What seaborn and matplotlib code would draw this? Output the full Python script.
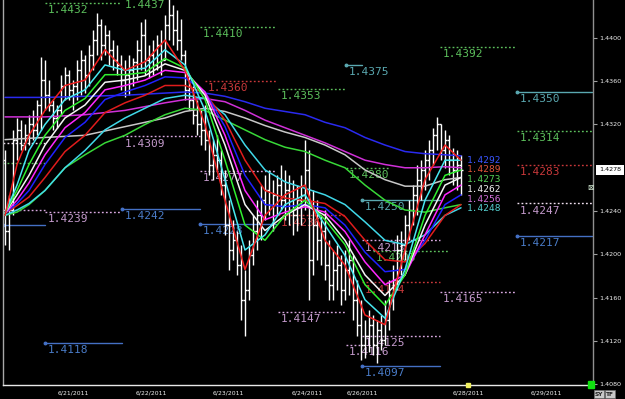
import matplotlib
matplotlib.use("Agg")
import matplotlib.pyplot as plt
import matplotlib.transforms as mtransforms
from matplotlib.patches import Rectangle
import numpy as np
import pandas as pd
import seaborn as sns

# ---------------- data ----------------
high = [1.4296, 1.4255, 1.4315, 1.4326, 1.4324, 1.4320, 1.4329, 1.4333, 1.4343, 1.4382,
        1.4380, 1.4361, 1.4343, 1.4338, 1.4366, 1.4373, 1.4370, 1.4361, 1.4380, 1.4389,
        1.4384, 1.4393, 1.4407, 1.4423, 1.4417, 1.4412, 1.4407, 1.4398, 1.4393, 1.4384,
        1.4380, 1.4384, 1.4381, 1.4398, 1.4415, 1.4417, 1.4393, 1.4398, 1.4403, 1.4407,
        1.4421, 1.4437, 1.4430, 1.4426, 1.4417, 1.4389, 1.4366, 1.4356, 1.4343, 1.4333,
        1.4338, 1.4315, 1.4306, 1.4310, 1.4296, 1.4278, 1.4250, 1.4232, 1.4222, 1.4209,
        1.4186, 1.4213, 1.4236, 1.4250, 1.4264, 1.4273, 1.4278, 1.4269, 1.4273, 1.4283,
        1.4278, 1.4273, 1.4269, 1.4264, 1.4273, 1.4306, 1.4296, 1.4259, 1.4250, 1.4236,
        1.4241, 1.4213, 1.4204, 1.4209, 1.4199, 1.4204, 1.4213, 1.4199, 1.4176, 1.4158,
        1.4139, 1.4149, 1.4144, 1.4139, 1.4144, 1.4158, 1.4176, 1.4190, 1.4218, 1.4222,
        1.4236, 1.4250, 1.4264, 1.4283, 1.4287, 1.4296, 1.4306, 1.4317, 1.4327, 1.4320,
        1.4315, 1.4310, 1.4298, 1.4296, 1.4292]
low = [1.4209, 1.4204, 1.4236, 1.4287, 1.4296, 1.4296, 1.4301, 1.4306, 1.4310, 1.4315,
       1.4333, 1.4332, 1.4315, 1.4317, 1.4329, 1.4343, 1.4343, 1.4333, 1.4343, 1.4347,
       1.4349, 1.4356, 1.4370, 1.4384, 1.4380, 1.4384, 1.4375, 1.4370, 1.4366, 1.4352,
       1.4345, 1.4347, 1.4356, 1.4361, 1.4370, 1.4366, 1.4363, 1.4366, 1.4370, 1.4366,
       1.4380, 1.4398, 1.4393, 1.4389, 1.4380, 1.4343, 1.4333, 1.4320, 1.4310, 1.4301,
       1.4296, 1.4273, 1.4269, 1.4278, 1.4255, 1.4218, 1.4186, 1.4195, 1.4181, 1.4139,
       1.4125, 1.4158, 1.4190, 1.4204, 1.4213, 1.4232, 1.4236, 1.4222, 1.4236, 1.4241,
       1.4232, 1.4227, 1.4218, 1.4222, 1.4227, 1.4241, 1.4158, 1.4181, 1.4195, 1.4190,
       1.4176, 1.4158, 1.4158, 1.4167, 1.4153, 1.4158, 1.4162, 1.4139, 1.4125, 1.4102,
       1.4104, 1.4110, 1.4107, 1.4100, 1.4112, 1.4116, 1.4130, 1.4149, 1.4167, 1.4181,
       1.4195, 1.4213, 1.4227, 1.4236, 1.4250, 1.4259, 1.4269, 1.4283, 1.4296, 1.4287,
       1.4280, 1.4273, 1.4264, 1.4259, 1.4255]
open_ = [1.4287, 1.4222, 1.4241, 1.4306, 1.4315, 1.4301, 1.4310, 1.4320, 1.4315, 1.4338,
         1.4361, 1.4347, 1.4338, 1.4326, 1.4333, 1.4356, 1.4366, 1.4352, 1.4356, 1.4370,
         1.4380, 1.4366, 1.4384, 1.4398, 1.4412, 1.4393, 1.4403, 1.4389, 1.4380, 1.4375,
         1.4361, 1.4366, 1.4370, 1.4378, 1.4389, 1.4403, 1.4380, 1.4384, 1.4375, 1.4393,
         1.4380, 1.4412, 1.4421, 1.4407, 1.4398, 1.4384, 1.4352, 1.4343, 1.4329, 1.4320,
         1.4315, 1.4306, 1.4283, 1.4292, 1.4287, 1.4264, 1.4227, 1.4204, 1.4213, 1.4190,
         1.4158, 1.4167, 1.4199, 1.4222, 1.4236, 1.4250, 1.4259, 1.4246, 1.4255, 1.4264,
         1.4250, 1.4259, 1.4241, 1.4236, 1.4250, 1.4255, 1.4278, 1.4195, 1.4227, 1.4213,
         1.4222, 1.4190, 1.4172, 1.4186, 1.4190, 1.4167, 1.4186, 1.4195, 1.4158, 1.4135,
         1.4116, 1.4125, 1.4135, 1.4116, 1.4130, 1.4121, 1.4139, 1.4162, 1.4176, 1.4204,
         1.4209, 1.4227, 1.4241, 1.4255, 1.4269, 1.4278, 1.4287, 1.4296, 1.4310, 1.4320,
         1.4296, 1.4306, 1.4287, 1.4278, 1.4283]
close = [1.4222, 1.4241, 1.4306, 1.4315, 1.4301, 1.4310, 1.4320, 1.4315, 1.4338, 1.4361,
         1.4347, 1.4338, 1.4326, 1.4333, 1.4356, 1.4366, 1.4352, 1.4356, 1.4370, 1.4380,
         1.4366, 1.4384, 1.4398, 1.4412, 1.4393, 1.4403, 1.4389, 1.4380, 1.4375, 1.4361,
         1.4366, 1.4370, 1.4378, 1.4389, 1.4403, 1.4380, 1.4384, 1.4375, 1.4393, 1.4380,
         1.4412, 1.4421, 1.4407, 1.4398, 1.4384, 1.4352, 1.4343, 1.4329, 1.4320, 1.4315,
         1.4306, 1.4283, 1.4292, 1.4287, 1.4264, 1.4227, 1.4204, 1.4213, 1.4190, 1.4158,
         1.4167, 1.4199, 1.4222, 1.4236, 1.4250, 1.4259, 1.4246, 1.4255, 1.4264, 1.4250,
         1.4259, 1.4241, 1.4236, 1.4250, 1.4255, 1.4278, 1.4195, 1.4227, 1.4213, 1.4222,
         1.4190, 1.4172, 1.4186, 1.4190, 1.4167, 1.4186, 1.4195, 1.4158, 1.4135, 1.4116,
         1.4125, 1.4135, 1.4116, 1.4130, 1.4121, 1.4139, 1.4162, 1.4176, 1.4204, 1.4209,
         1.4227, 1.4241, 1.4255, 1.4269, 1.4278, 1.4287, 1.4296, 1.4310, 1.4320, 1.4296,
         1.4306, 1.4287, 1.4278, 1.4283, 1.4278]

# moving-average ribbon, sampled at bar indices
ma_fast_idx = [0, 3, 6, 10, 15, 20, 25, 30, 35, 40, 45, 50, 55, 60, 65, 70, 75, 80, 85,
               90, 95, 100, 105, 110, 114]
ma_slow_idx = [0, 10, 20, 30, 40, 45, 50, 55, 60, 65, 70, 75, 80, 85, 90, 95, 100, 105,
               110, 114]
ma_red_fast = [1.4236, 1.4283, 1.4310, 1.4333, 1.4356, 1.4361, 1.4389, 1.4370, 1.4378, 1.4398,
               1.4370, 1.4320, 1.4250, 1.4186, 1.4236, 1.4255, 1.4264, 1.4213, 1.4190, 1.4144,
               1.4135, 1.4204, 1.4269, 1.4301, 1.4287]
ma_cyan_fast = [1.4238, 1.4264, 1.4296, 1.4320, 1.4343, 1.4352, 1.4375, 1.4370, 1.4372, 1.4389,
                1.4375, 1.4333, 1.4269, 1.4204, 1.4218, 1.4246, 1.4255, 1.4227, 1.4199, 1.4158,
                1.4141, 1.4186, 1.4250, 1.4287, 1.4287]
ma_green_fast = [1.4238, 1.4259, 1.4283, 1.4310, 1.4333, 1.4344, 1.4366, 1.4366, 1.4368, 1.4381,
                 1.4372, 1.4343, 1.4287, 1.4227, 1.4213, 1.4236, 1.4250, 1.4232, 1.4209, 1.4172,
                 1.4153, 1.4181, 1.4236, 1.4273, 1.4278]
ma_white_fast = [1.4238, 1.4255, 1.4273, 1.4301, 1.4326, 1.4338, 1.4359, 1.4361, 1.4365, 1.4376,
                 1.4370, 1.4347, 1.4301, 1.4246, 1.4222, 1.4236, 1.4246, 1.4236, 1.4213, 1.4181,
                 1.4162, 1.4181, 1.4227, 1.4264, 1.4271]
ma_magenta_fast = [1.4238, 1.4250, 1.4266, 1.4292, 1.4317, 1.4331, 1.4352, 1.4356, 1.4361, 1.4370,
                   1.4368, 1.4350, 1.4310, 1.4259, 1.4232, 1.4239, 1.4244, 1.4239, 1.4221, 1.4193,
                   1.4172, 1.4181, 1.4218, 1.4255, 1.4264]
ma_blue_mid = [1.4238, 1.4247, 1.4259, 1.4283, 1.4308, 1.4322, 1.4343, 1.4350, 1.4356, 1.4364,
               1.4363, 1.4350, 1.4318, 1.4273, 1.4246, 1.4244, 1.4246, 1.4243, 1.4227, 1.4202,
               1.4184, 1.4186, 1.4213, 1.4246, 1.4255]
ma_red_mid = [1.4238, 1.4245, 1.4253, 1.4271, 1.4295, 1.4310, 1.4331, 1.4340, 1.4347, 1.4356,
              1.4356, 1.4349, 1.4324, 1.4287, 1.4259, 1.4252, 1.4250, 1.4247, 1.4235, 1.4213,
              1.4195, 1.4193, 1.4210, 1.4236, 1.4246]
ma_cyan_mid = [1.4236, 1.4241, 1.4247, 1.4259, 1.4280, 1.4296, 1.4315, 1.4326, 1.4335, 1.4344,
               1.4347, 1.4344, 1.4329, 1.4301, 1.4278, 1.4267, 1.4261, 1.4255, 1.4246, 1.4230,
               1.4213, 1.4209, 1.4218, 1.4236, 1.4243]
ma_green_slow = [1.4236, 1.4239, 1.4246, 1.4259, 1.4280, 1.4292, 1.4303, 1.4310, 1.4320, 1.4329,
                 1.4335, 1.4333, 1.4324, 1.4315, 1.4306, 1.4299, 1.4295, 1.4287, 1.4280, 1.4264,
                 1.4250, 1.4241, 1.4239, 1.4243, 1.4246]
ma_grey_slow = [1.4306, 1.4308, 1.4310, 1.4318, 1.4326, 1.4332, 1.4335, 1.4332, 1.4326, 1.4319,
                1.4313, 1.4308, 1.4301, 1.4292, 1.4278, 1.4269, 1.4263, 1.4263, 1.4269, 1.4271]
ma_magenta_slow = [1.4327, 1.4327, 1.4329, 1.4333, 1.4340, 1.4343, 1.4344, 1.4341, 1.4333, 1.4324,
                   1.4317, 1.4310, 1.4303, 1.4295, 1.4287, 1.4283, 1.4280, 1.4280, 1.4281, 1.4280]
ma_blue_slow = [1.4345, 1.4345, 1.4346, 1.4347, 1.4349, 1.4350, 1.4349, 1.4346, 1.4341, 1.4335,
                1.4332, 1.4329, 1.4322, 1.4317, 1.4308, 1.4301, 1.4295, 1.4293, 1.4292, 1.4291]

# horizontal levels: start bar, end bar, price, kind, label
level_start = [10, 29.25, 48.75, 50, 68.25, 85.25, 108.75, 128, 128, 128, 128, 128, 108.75,
               89.25, 85.25, 89.25, 68.25, 10, -0.5, 10, 29.25, 29.25, -0.5, -0.5, -0.5,
               48.75, 48.75, 68.25, 85.25, 89.25, 92, 89.25, 89.25]
level_end = [28.75, 48.75, 67.75, 67.75, 85.25, 89.25, 127.5, 146.75, 146.75, 146.75, 146.75,
             146.75, 127.5, 108.75, 89.25, 108.75, 85.25, 29.25, 10, 28.75, 48.75, 48.75, 10,
             10, 10, 67.75, 67.75, 85.25, 96.25, 108.75, 110.75, 108.75, 108.75]
level_price = [1.4432, 1.4437, 1.4410, 1.4360, 1.4353, 1.4375, 1.4392, 1.4350, 1.4314, 1.4283,
               1.4247, 1.4217, 1.4165, 1.4125, 1.4116, 1.4097, 1.4147, 1.4118, 1.4241, 1.4239,
               1.4242, 1.4309, 1.4227, 1.4284, 1.4303, 1.4277, 1.4228, 1.4236, 1.4280, 1.4250,
               1.4203, 1.4174, 1.4213]
level_kind = ["green", "green", "green", "red", "green", "teal", "green", "teal", "green", "red",
              "white", "blue", "pink", "pink", "pink", "blue", "pink", "blue", "pink", "pink",
              "blue", "pink", "blue", "green", "white", "pink", "blue", "red", "green", "teal",
              "green", "red", "pink"]
level_label = ["1.4432", "1.4437", "1.4410", "1.4360", "1.4353", "1.4375", "1.4392", "1.4350",
               "1.4314", "1.4283", "1.4247", "1.4217", "1.4165", "1.4125", "1.4116", "1.4097",
               "1.4147", "1.4118", "", "1.4239", "1.4242", "1.4309", "", "", "", "1.4277",
               "1.4228", "1.4236", "1.4280", "1.4250", "1.4203", "1.4174", "1.4213"]

# indicator end values
end_labels = ["1.4292", "1.4289", "1.4273", "1.4262", "1.4256", "1.4248"]
end_label_price = [1.4287, 1.4278, 1.4269, 1.4260, 1.4251, 1.4242]
end_label_color = ["#3a55ff", "#e0553a", "#55d055", "#f0f0f0", "#d070d8", "#55d0d0"]

date_labels = ["6/21/2011", "6/22/2011", "6/23/2011", "6/24/2011", "6/26/2011",
               "6/28/2011", "6/29/2011"]
date_pos = [13.25, 32.75, 52, 71.75, 85.5, 112, 131.5]
price_ticks = [1.4080, 1.4120, 1.4160, 1.4200, 1.4240, 1.4320, 1.4360, 1.4400]
last_price = 1.4278

# ---------------- styling ----------------
sns.set_theme(style="dark", rc={"axes.facecolor": "black", "figure.facecolor": "black"})
plt.rcParams["font.family"] = ["DejaVu Sans"]

kind_color = {"green": "#5cbf5c", "red": "#c8383a", "pink": "#d8a8e0", "teal": "#5aa8b0",
              "blue": "#4470c4", "white": "#f0e0f0"}
kind_text = {"green": "#5cbf5c", "red": "#c8383a", "pink": "#c49acc", "teal": "#5aa8b0",
             "blue": "#4a7cc8", "white": "#c49acc"}

fig = plt.figure(figsize=(6.25, 3.99), dpi=100, facecolor="black")
ax = fig.add_axes([3 / 625, 14 / 399, 590 / 625, 385 / 399])
ax.set_facecolor("black")
ymin, ymax = 1.40793, 1.4435
ax.set_xlim(-0.5, 147)
ax.set_ylim(ymin, ymax)

# level lines + labels
for x0, x1, p, k, lab in zip(level_start, level_end, level_price, level_kind, level_label):
    solid = k in ("teal", "blue")
    ax.plot([x0, x1], [p, p], color=kind_color[k], lw=1.0,
            ls="-" if solid else (0, (1.3, 1.6)), zorder=1)
    if solid:
        ax.plot([x0], [p], marker="o", ms=1.8, color=kind_color[k], zorder=1)
    if lab:
        ax.annotate(lab, xy=(x0, p), xytext=(2.2, -1.6), textcoords="offset points",
                    ha="left", va="top", fontsize=8.0, family="DejaVu Sans Mono",
                    color=kind_text[k], zorder=1, annotation_clip=False)

# price bars
idx = np.arange(len(close))
ax.vlines(idx, low, high, color="white", lw=1.0, zorder=2)
ax.hlines(open_, idx - 0.5, idx, color="white", lw=1.0, zorder=2)
ax.hlines(close, idx, idx + 0.5, color="white", lw=1.0, zorder=2)

# moving averages through seaborn
series = [
    ("blue_slow", ma_slow_idx, ma_blue_slow, "#2a2af0"),
    ("magenta_slow", ma_slow_idx, ma_magenta_slow, "#d030d8"),
    ("grey_slow", ma_slow_idx, ma_grey_slow, "#c8c8c8"),
    ("green_slow", ma_fast_idx, ma_green_slow, "#38d838"),
    ("cyan_mid", ma_fast_idx, ma_cyan_mid, "#40d8e8"),
    ("red_mid", ma_fast_idx, ma_red_mid, "#e01c1c"),
    ("blue_mid", ma_fast_idx, ma_blue_mid, "#2020ff"),
    ("magenta_fast", ma_fast_idx, ma_magenta_fast, "#ff28ff"),
    ("white_fast", ma_fast_idx, ma_white_fast, "#f4f4f4"),
    ("green_fast", ma_fast_idx, ma_green_fast, "#30f030"),
    ("cyan_fast", ma_fast_idx, ma_cyan_fast, "#48e8f0"),
    ("red_fast", ma_fast_idx, ma_red_fast, "#f02020"),
]
rows = []
for name, xs, ys, _ in series:
    for xv, yv in zip(xs, ys):
        rows.append({"ma": name, "bar": xv, "price": yv})
df = pd.DataFrame(rows)
palette = {name: col for name, _, _, col in series}
sns.lineplot(data=df, x="bar", y="price", hue="ma", hue_order=[s[0] for s in series],
             palette=palette, estimator=None, sort=False, legend=False, lw=1.1, ax=ax)
for ln in ax.get_lines()[-len(series):]:
    ln.set_zorder(3)

for lab, p, c in zip(end_labels, end_label_price, end_label_color):
    ax.text(115.5, p, lab, fontsize=6.8, family="DejaVu Sans Mono", color=c,
            ha="left", va="center", zorder=4)

# axes
ax.yaxis.tick_right()
ax.set_yticks(price_ticks)
ax.set_yticklabels([f"{t:.4f}" for t in price_ticks])
ax.tick_params(axis="y", colors="#a0a0a0", labelcolor="#f0f0f0", labelsize=4.6,
               length=3, width=0.8, direction="out", pad=1.5)
ax.set_xticks(date_pos)
ax.set_xticklabels(date_labels, ha="left")
ax.tick_params(axis="x", colors="#e0e0e0", labelcolor="#f0f0f0", labelsize=4.4,
               length=3, width=0.8, direction="out", pad=0.8)
ax.set_xlabel("")
ax.set_ylabel("")
ax.grid(False)
for side, col in (("left", "#a8a8a8"), ("right", "#909090"), ("bottom", "#e8e8e8")):
    ax.spines[side].set_visible(True)
    ax.spines[side].set_color(col)
    ax.spines[side].set_linewidth(1.0)
ax.spines["top"].set_visible(False)

trans = mtransforms.blended_transform_factory(ax.transAxes, ax.transData)
ax.annotate(f"{last_price:.4f}", xy=(1.0, last_price), xycoords=trans, xytext=(4.5, 0),
            textcoords="offset points", ha="left", va="center", fontsize=4.6, color="black",
            bbox=dict(boxstyle="square,pad=0.45", fc="white", ec="none"),
            annotation_clip=False, zorder=6)

# small chart-widget decorations
ax.plot([115.75], [ymin], marker="s", ms=2.3, color="#f0f060", clip_on=False, zorder=6)
fig.add_artist(Rectangle((588 / 625, 11 / 399), 6 / 625, 7 / 399,
                         transform=fig.transFigure, color="#10e010"))
fig.text(590 / 625, 1 - 188 / 399, "\u22a0", color="#d8f0d8", fontsize=5.5,
         ha="center", va="center")
fig.text(599 / 625, 1 - 394 / 399, "SY", color="#202020", fontsize=4.2, weight="bold",
         ha="center", va="center",
         bbox=dict(boxstyle="square,pad=0.2", fc="#c8c8c8", ec="#707070", lw=0.5))
fig.text(610 / 625, 1 - 394 / 399, "TF", color="#202020", fontsize=4.2, weight="bold",
         ha="center", va="center",
         bbox=dict(boxstyle="square,pad=0.2", fc="#c8c8c8", ec="#707070", lw=0.5))

fig.savefig("out.png", dpi=100, facecolor="black")
